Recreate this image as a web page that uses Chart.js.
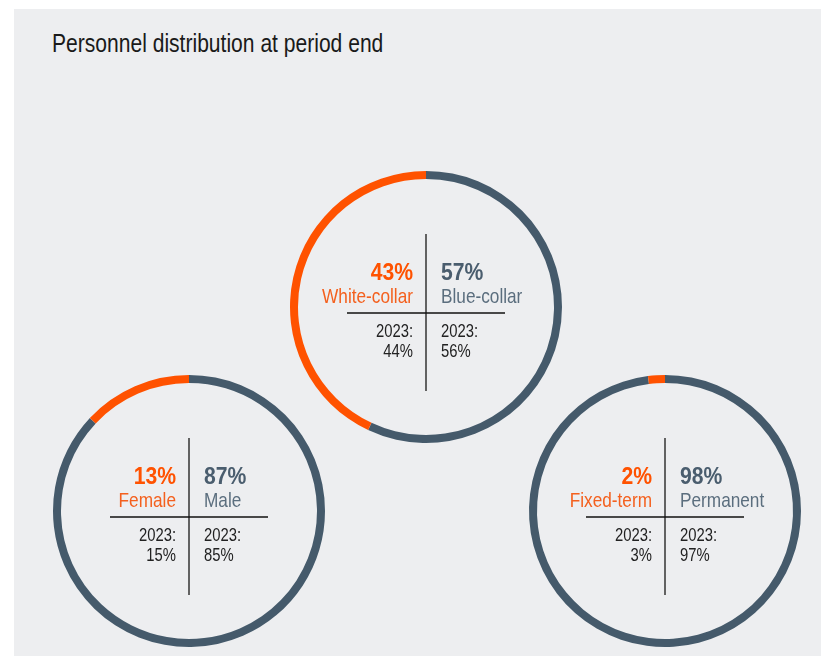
<!DOCTYPE html>
<html>
<head>
<meta charset="utf-8">
<script src="https://cdn.jsdelivr.net/npm/chart.js@4"></script>
<style>
  body { margin: 0; background: #fff; }
  #page { position: relative; width: 821px; height: 656px; overflow: hidden; background: #fff; }
  #panel { position: absolute; left: 14px; top: 9px; width: 807px; height: 647px; background: #edeef0; }
  #title { position: absolute; left: 52px; top: 28px; font-family: "Liberation Sans", Arial, sans-serif;
           font-size: 26px; color: #1a1a1a; white-space: nowrap;
           transform: scaleX(0.81); transform-origin: 0 0; }
  canvas { position: absolute; }
</style>
</head>
<body>
<div id="page">
  <div id="panel"></div>
  <div id="title">Personnel distribution at period end</div>
  <canvas id="c0" width="290" height="290" style="left:281px;top:162px"></canvas>
  <canvas id="c1" width="290" height="290" style="left:44px;top:366px"></canvas>
  <canvas id="c2" width="290" height="290" style="left:520px;top:366px"></canvas>
</div>
<script>
// data
var orangeLabels = ['White-collar', 'Female', 'Fixed-term'];
var greyLabels = ['Blue-collar', 'Male', 'Permanent'];
var orangeShare = [43, 13, 2];
var greyShare = [57, 87, 98];
var orangePrev = [44, 15, 3];
var greyPrev = [56, 85, 97];
var prevYear = '2023';

var ORANGE = '#ff5200';
var GREY = '#455a6b';
var FONT = '"Liberation Sans", Arial, sans-serif';

// narrow text: the original uses a condensed face, so squeeze it
function narrowText(ctx, s, x, y, align, sx) {
  ctx.save();
  ctx.translate(x, y);
  ctx.scale(sx, 1);
  ctx.textAlign = align;
  ctx.fillText(s, 0, 0);
  ctx.restore();
}

// draws the cross and the texts in the middle of each ring
var crossPlugin = {
  id: 'cross',
  afterDraw: function(chart, args, opts) {
    var i = opts.index;
    var ctx = chart.ctx;
    var a = chart.chartArea;
    var x = (a.left + a.right) / 2;
    var y = (a.top + a.bottom) / 2 + 6;
    ctx.save();
    ctx.strokeStyle = '#333';
    ctx.lineWidth = 1.5;
    ctx.beginPath();
    ctx.moveTo(x, y - 79); ctx.lineTo(x, y + 78);
    ctx.stroke();
    ctx.strokeStyle = '#111';
    ctx.beginPath();
    ctx.moveTo(x - 79, y); ctx.lineTo(x + 79, y);
    ctx.stroke();

    ctx.textBaseline = 'alphabetic';
    // left side (orange)
    ctx.fillStyle = ORANGE;
    ctx.font = 'bold 23px ' + FONT;
    narrowText(ctx, orangeShare[i] + '%', x - 13, y - 33, 'right', 0.92);
    ctx.fillStyle = '#f4601e';
    ctx.font = '21px ' + FONT;
    narrowText(ctx, orangeLabels[i], x - 13, y - 10, 'right', 0.82);
    ctx.fillStyle = '#222';
    ctx.font = '19px ' + FONT;
    narrowText(ctx, prevYear + ':', x - 13, y + 24, 'right', 0.78);
    narrowText(ctx, orangePrev[i] + '%', x - 13, y + 44, 'right', 0.78);
    // right side (grey)
    ctx.fillStyle = '#4a5d6e';
    ctx.font = 'bold 23px ' + FONT;
    narrowText(ctx, greyShare[i] + '%', x + 15, y - 33, 'left', 0.92);
    ctx.fillStyle = '#5b6e7e';
    ctx.font = '21px ' + FONT;
    narrowText(ctx, greyLabels[i], x + 15, y - 10, 'left', 0.82);
    ctx.fillStyle = '#222';
    ctx.font = '19px ' + FONT;
    narrowText(ctx, prevYear + ':', x + 15, y + 24, 'left', 0.78);
    narrowText(ctx, greyPrev[i] + '%', x + 15, y + 44, 'left', 0.78);
    ctx.restore();
  }
};

for (var i = 0; i < 3; i++) {
  var ctx = document.getElementById('c' + i).getContext('2d');
  new Chart(ctx, {
    type: 'doughnut',
    data: {
      labels: [greyLabels[i], orangeLabels[i]],
      datasets: [{
        data: [greyShare[i], orangeShare[i]],
        backgroundColor: [GREY, ORANGE],
        borderWidth: 0
      }]
    },
    options: {
      responsive: false,
      animation: false,
      cutout: 128,
      layout: { padding: 9 },
      plugins: {
        legend: { display: false },
        tooltip: { enabled: false },
        cross: { index: i }
      }
    },
    plugins: [crossPlugin]
  });
}
</script>
</body>
</html>
